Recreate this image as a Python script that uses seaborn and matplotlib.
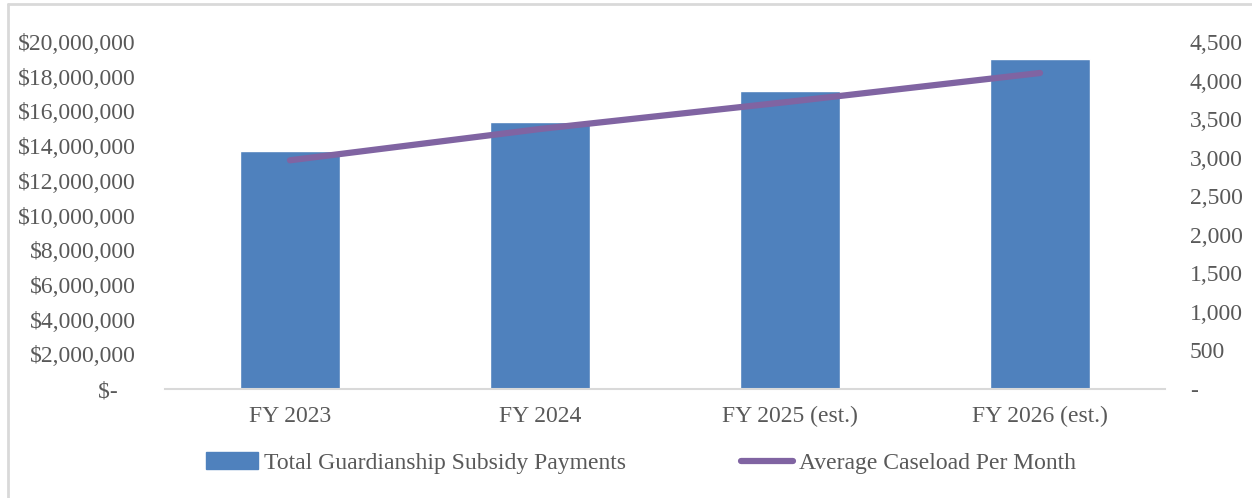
import matplotlib
matplotlib.use("Agg")
import matplotlib.pyplot as plt
import seaborn as sns
import pandas as pd
from matplotlib.lines import Line2D
from matplotlib.patches import Patch
from matplotlib.ticker import FixedLocator, FuncFormatter

categories = ["FY 2023", "FY 2024", "FY 2025 (est.)", "FY 2026 (est.)"]
payments = [13720000, 15400000, 17180000, 19040000]
caseload = [2966, 3372, 3726, 4098]
left_ticks = [0, 2000000, 4000000, 6000000, 8000000, 10000000, 12000000, 14000000, 16000000, 18000000, 20000000]
right_ticks = [0, 500, 1000, 1500, 2000, 2500, 3000, 3500, 4000, 4500]
series_names = ["Total Guardianship Subsidy Payments", "Average Caseload Per Month"]

sns.set_style("white")
plt.rcParams['font.family'] = ['Liberation Serif', 'DejaVu Serif']

BAR = "#4F81BD"
LINE = "#8064A2"
TXT = "#595959"
FS = 17

df = pd.DataFrame({"cat": categories, "pay": payments, "case": caseload})

W, H = 1252, 498
fig = plt.figure(figsize=(W / 100, H / 100), dpi=100)
ax = fig.add_axes([165 / W, 1 - 389 / H, 1000 / W, (389 - 42) / H])

sns.barplot(data=df, x="cat", y="pay", color=BAR, width=0.4, saturation=1, ax=ax)
ax.set_xlim(-0.5, 3.5)
ax.set_ylim(0, 20000000)
ax.yaxis.set_major_locator(FixedLocator(left_ticks))
ax.yaxis.set_major_formatter(FuncFormatter(lambda v, p: "$-   " if v == 0 else f"${v:,.0f}"))
ax.set_xlabel("")
ax.set_ylabel("")
for s in ["top", "right", "left"]:
    ax.spines[s].set_visible(False)
ax.spines["bottom"].set_color("#D9D9D9")
ax.spines["bottom"].set_linewidth(1.5)
ax.tick_params(axis="y", length=0, pad=21, labelsize=FS, labelcolor=TXT)
ax.tick_params(axis="x", length=0, pad=12, labelsize=FS, labelcolor=TXT)

ax2 = ax.twinx()
sns.lineplot(x=list(range(len(categories))), y=caseload, color=LINE, linewidth=4.5, ax=ax2,
             solid_capstyle="round")
ax2.set_xlim(-0.5, 3.5)
ax2.set_ylim(0, 4500)
ax2.yaxis.set_major_locator(FixedLocator(right_ticks))
ax2.yaxis.set_major_formatter(FuncFormatter(lambda v, p: "-" if v == 0 else f"{v:,.0f}"))
for s in ["top", "right", "left", "bottom"]:
    ax2.spines[s].set_visible(False)
ax2.tick_params(axis="y", length=0, pad=18, labelsize=FS, labelcolor=TXT)
ax2.set_ylabel("")

handles = [Patch(facecolor=BAR, edgecolor=BAR),
           Line2D([0], [0], color=LINE, linewidth=4.5, solid_capstyle="round")]
fig.legend(handles, series_names, loc="center", bbox_to_anchor=(641 / W, 1 - 463 / H),
           ncol=2, frameon=False, fontsize=FS, labelcolor=TXT, handlelength=2.2,
           handleheight=0.7, handletextpad=0.25, columnspacing=4.9)

# chart border (top and left visible)
fig.add_artist(Line2D([8 / W, 8 / W], [0, 1 - 4 / H], transform=fig.transFigure, color="#D9D9D9", linewidth=2))
fig.add_artist(Line2D([8 / W, 1], [1 - 4 / H, 1 - 4 / H], transform=fig.transFigure, color="#D9D9D9", linewidth=2))

fig.savefig("out.png", dpi=100)
